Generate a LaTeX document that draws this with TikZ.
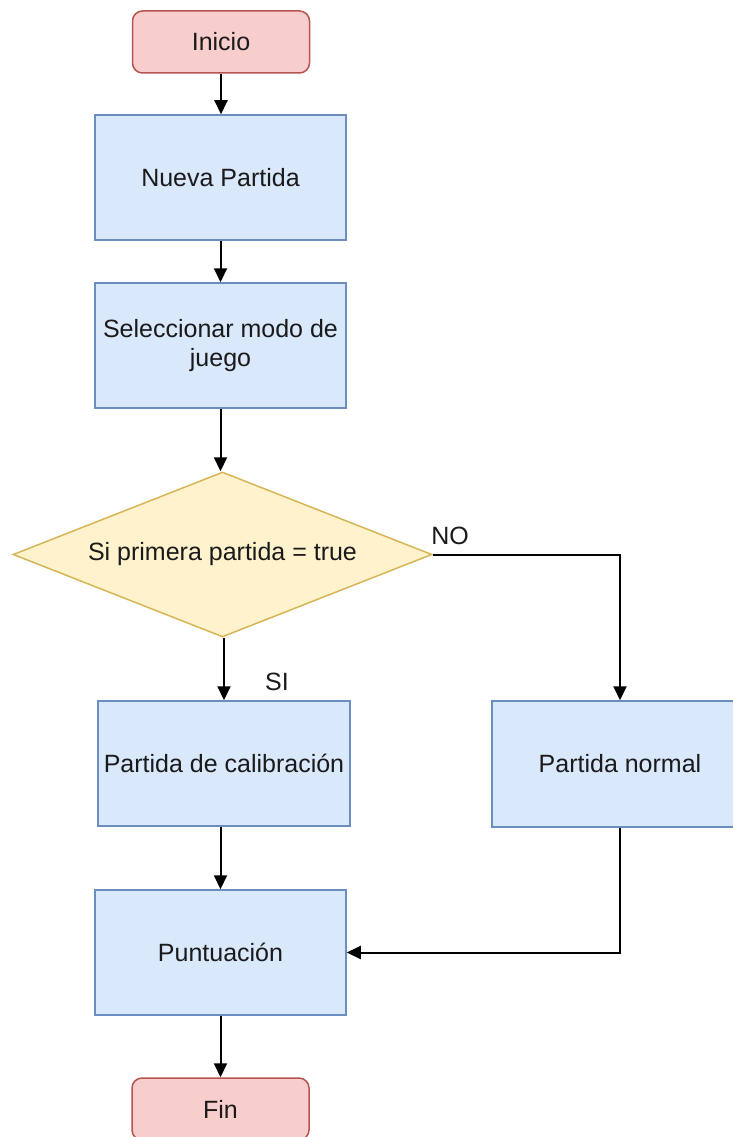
\documentclass[tikz,border=0pt]{standalone}
\usepackage{fontspec}
\setmainfont{Liberation Sans}
\usetikzlibrary{shapes.geometric,arrows.meta}
\definecolor{bfill}{HTML}{DAE8FC}
\definecolor{bdraw}{HTML}{6C8EBF}
\definecolor{rfill}{HTML}{F8CECC}
\definecolor{rdraw}{HTML}{B85450}
\definecolor{yfill}{HTML}{FFF2CC}
\definecolor{ydraw}{HTML}{D6B656}
\definecolor{txt}{HTML}{1A1A1A}
\begin{document}
\begin{tikzpicture}[x=1pt,y=-1pt,
  every node/.style={font=\fontsize{25}{29}\selectfont, text=txt},
  proc/.style={draw=bdraw, fill=bfill, line width=1.5pt, rectangle, minimum width=251pt, minimum height=125pt, inner sep=0pt, align=center},
  term/.style={draw=rdraw, fill=rfill, line width=1.5pt, rounded corners=10pt, minimum width=177pt, minimum height=62pt, inner sep=0pt},
  dec/.style={draw=ydraw, fill=yfill, line width=1.5pt, diamond, aspect=2.539, minimum width=419pt, minimum height=165pt, inner sep=0pt},
  conn/.style={draw=black, line width=2pt, -{Triangle[length=14pt,width=13pt]}},
  lbl/.style={inner sep=0pt}
]
\useasboundingbox (0,0) rectangle (733,1137);
\clip (0,0) rectangle (733,1137);
\fill[white] (0,0) rectangle (733,1137);
\node[term] (inicio) at (221,42) {Inicio};
\node[proc] (nueva) at (220.5,177.5) {Nueva Partida};
\node[proc] (sel) at (220.5,345.5) {Seleccionar modo de\\juego};
\node[dec] (dec) at (222.5,554.5) {Si primera partida = true};
\node[proc, minimum width=252pt] (cal) at (224,763.5) {Partida de calibración};
\node[proc, minimum width=256pt, minimum height=126pt] (norm) at (620,764) {Partida normal};
\node[proc] (punt) at (220.5,952.5) {Puntuación};
\node[term] (fin) at (220.5,1109) {Fin};
\node[lbl] (no) at (450,536) {NO};
\node[lbl] (si) at (277,682) {SI};
\draw[conn] (inicio.south) -- (inicio.south |- nueva.north);
\draw[conn] (nueva.south) -- (sel.north);
\draw[conn] (sel.south) -- (sel.south |- dec.north);
\draw[conn] (dec.south -| cal.north) -- (cal.north);
\draw[conn] (dec.east) -| (norm.north);
\draw[conn] (cal.south -| punt.north) -- (punt.north);
\draw[conn] (norm.south) |- (punt.east);
\draw[conn] (punt.south) -- (fin.north);
\end{tikzpicture}
\end{document}
